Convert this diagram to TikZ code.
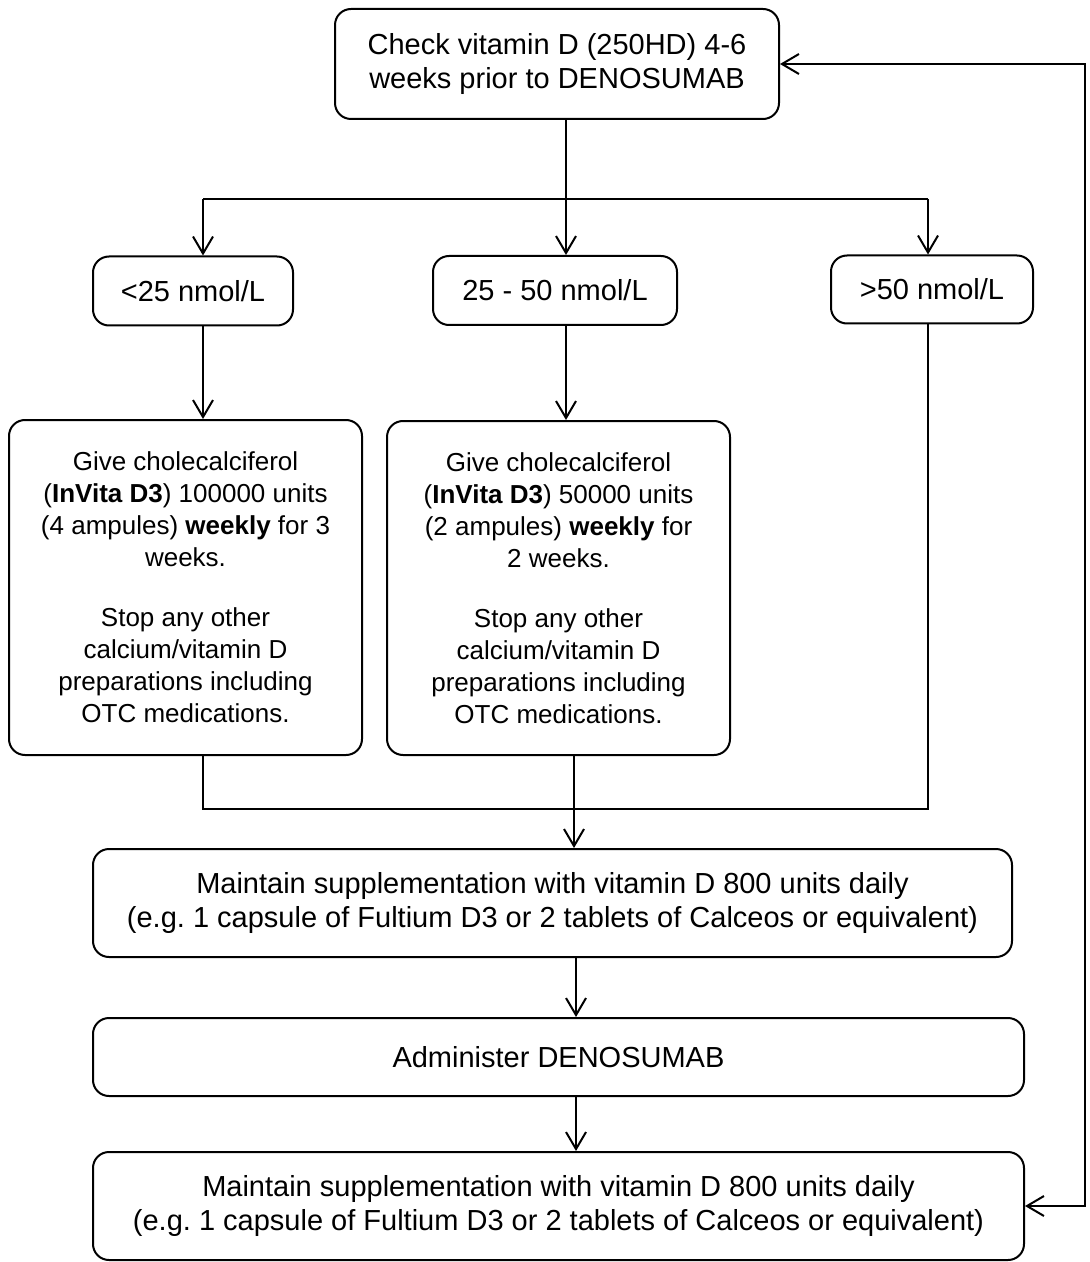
\documentclass[tikz,border=0pt]{standalone}
\usepackage{fontspec}
\setmainfont{Liberation Sans}
\usetikzlibrary{arrows.meta}
\frenchspacing
\tikzset{
  box/.style={draw=black, line width=1pt, rounded corners=8pt, align=center, inner sep=0pt, anchor=center},
  fa/.style={font=\fontsize{14.5pt}{16.75pt}\selectfont},
  fb/.style={font=\fontsize{13pt}{16pt}\selectfont},
  conn/.style={draw=black, line width=1pt},
  arr/.style={conn, -{Straight Barb[length=8.5pt,width=10pt,line width=1pt]}},
  darr/.style={conn, {Straight Barb[length=8.5pt,width=10pt,line width=1pt]}-{Straight Barb[length=8.5pt,width=10pt,line width=1pt]}}
}
\begin{document}
\begin{tikzpicture}[x=0.5pt, y=-0.5pt]
\useasboundingbox[fill=white] (0,0) rectangle (1089,1262);

% nodes
\node[box, fa, minimum width=222pt, minimum height=55pt] (top) at (557,64)
  {Check vitamin D (250HD) 4-6\\weeks prior to DENOSUMAB};
\node[box, fa, minimum width=100pt, minimum height=34.5pt] (lo) at (193,291) {<25 nmol/L};
\node[box, fa, minimum width=122pt, minimum height=34.5pt] (mid) at (555,290.5) {25 - 50 nmol/L};
\node[box, fa, minimum width=101pt, minimum height=34pt] (hi) at (932,289.5) {>50 nmol/L};

\node[box, fb, minimum width=176.5pt, minimum height=167.5pt] (bl) at (185.5,587.5)
  {Give cholecalciferol\\(\textbf{InVita D3}) 100000 units\\(4 ampules) \textbf{weekly} for 3\\weeks.\\[14pt]Stop any other\\calcium/vitamin D\\preparations including\\OTC medications.};
\node[box, fb, minimum width=171.5pt, minimum height=167pt] (bm) at (558.5,588)
  {Give cholecalciferol\\(\textbf{InVita D3}) 50000 units\\(2 ampules) \textbf{weekly} for\\2 weeks.\\[14pt]Stop any other\\calcium/vitamin D\\preparations including\\OTC medications.};

\node[box, fa, minimum width=459.5pt, minimum height=54pt] (m1) at (552.5,903)
  {Maintain supplementation with vitamin D 800 units daily\\(e.g. 1 capsule of Fultium D3 or 2 tablets of Calceos or equivalent)};
\node[box, fa, minimum width=465.5pt, minimum height=39pt] (adm) at (558.5,1057)
  {Administer DENOSUMAB};
\node[box, fa, minimum width=465.5pt, minimum height=54pt] (m2) at (558.5,1206)
  {Maintain supplementation with vitamin D 800 units daily\\(e.g. 1 capsule of Fultium D3 or 2 tablets of Calceos or equivalent)};

% helper coordinates
\coordinate (xL) at (203,0);
\coordinate (xM) at (566,0);
\coordinate (xR) at (928,0);
\coordinate (xB) at (574,0);
\coordinate (xC) at (576,0);
\coordinate (xLoop) at (1085,0);
\coordinate (yBr) at (0,199);
\coordinate (yJn) at (0,809);

% connectors
\draw[arr] (top.south -| xM) -- (mid.north -| xM);
\draw[conn] (yBr -| xL) -- (yBr -| xR);
\draw[arr] (yBr -| xL) -- (lo.north -| xL);
\draw[arr] (yBr -| xR) -- (hi.north -| xR);
\draw[arr] (lo.south -| xL) -- (bl.north -| xL);
\draw[arr] (mid.south -| xM) -- (bm.north -| xM);
\draw[conn] (bl.south -| xL) -- (yJn -| xL) -- (yJn -| xR) -- (hi.south -| xR);
\draw[arr] (bm.south -| xB) -- (m1.north -| xB);
\draw[arr] (m1.south -| xC) -- (adm.north -| xC);
\draw[arr] (adm.south -| xC) -- (m2.north -| xC);
\draw[darr] (top.east) -- (top.east -| xLoop) -- (m2.east -| xLoop) -- (m2.east);
\end{tikzpicture}
\end{document}
